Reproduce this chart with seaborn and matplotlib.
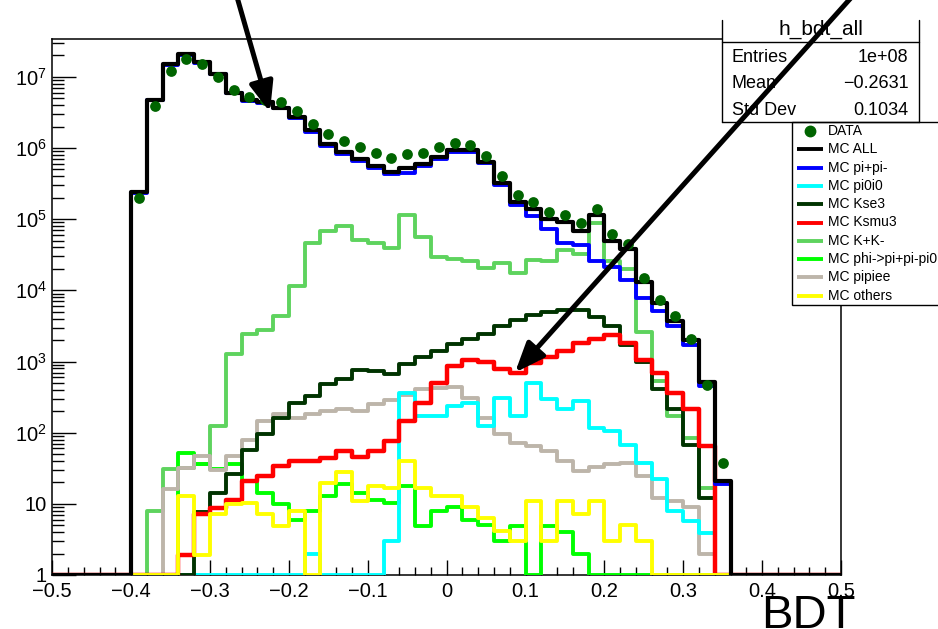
import numpy as np
import pandas as pd
import matplotlib
matplotlib.use("Agg")
import matplotlib.pyplot as plt
import seaborn as sns
from matplotlib.patches import Rectangle
from matplotlib.lines import Line2D
from matplotlib.ticker import MultipleLocator, LogLocator, NullFormatter, FuncFormatter

W, H = 938, 629

sns.set_theme(style="ticks")
plt.rcParams["font.family"] = ["Liberation Sans", "DejaVu Sans"]
plt.rcParams["mathtext.fontset"] = "custom"
plt.rcParams["mathtext.rm"] = "Liberation Sans"
plt.rcParams["mathtext.it"] = "Liberation Sans:italic"
plt.rcParams["axes.unicode_minus"] = True

# ---- binning of the BDT output ------------------------------------------
X_LO, X_HI, N_BINS = -0.5, 0.5, 50
Y_MIN, Y_MAX = 1.0, 3.37e7
edges = np.linspace(X_LO, X_HI, N_BINS + 1)
centers = 0.5 * (edges[:-1] + edges[1:])

# ---- bin contents (first filled bin index, then contents) ----------------
data_start = 5
data_counts = [2.0e5, 3.9e6, 1.2e7, 1.78e7, 1.5e7, 1.0e7, 6.5e6, 5.2e6, 4.7e6, 4.4e6,
               3.3e6, 2.16e6, 1.55e6, 1.24e6, 1.03e6, 8.5e5, 7.3e5, 8.3e5, 8.6e5, 1.03e6,
               1.19e6, 1.12e6, 7.8e5, 4.0e5, 2.18e5, 1.72e5, 1.28e5, 1.15e5, 8.8e4, 1.37e5,
               6.2e4, 4.5e4, 1.5e4, 7.4e3, 4.4e3, 2.07e3, 470, 37.8]

mc_all_start = 5
mc_all = [2.4e5, 4.8e6, 1.5e7, 2.09e7, 1.6e7, 1.1e7, 6.0e6, 4.7e6, 4.4e6, 3.7e6,
          2.7e6, 1.78e6, 1.15e6, 8.8e5, 7.1e5, 5.6e5, 4.6e5, 5.3e5, 6.0e5, 7.5e5,
          9.3e5, 9.3e5, 6.4e5, 3.2e5, 1.74e5, 1.37e5, 1.0e5, 9.1e4, 6.9e4, 1.16e5,
          5.0e4, 3.8e4, 1.3e4, 6.6e3, 3.7e3, 2.0e3, 522, 21]

pipi_start = 5
mc_pipi = [2.3e5, 4.7e6, 1.47e7, 2.05e7, 1.57e7, 1.08e7, 5.9e6, 4.6e6, 4.3e6, 3.6e6,
           2.6e6, 1.7e6, 1.08e6, 8.3e5, 6.6e5, 5.3e5, 4.3e5, 4.5e5, 5.6e5, 7.1e5,
           8.9e5, 8.7e5, 6.1e5, 3.05e5, 1.6e5, 1.12e5, 7.3e4, 4.66e4, 4.36e4, 2.56e4,
           2.1e4, 1.4e4, 7.9e3, 5.1e3, 3.2e3, 1.7e3, 457, 18.7]

pi0pi0_start = 16
mc_pi0pi0 = [2.0, 0, 0, 0, 0, 3.05, 366, 172, 172, 238,
             257, 124, 311, 172, 505, 295, 214, 279, 117, 106,
             67, 37, 22, 7.9, 5.7, 3.9]

kse3_start = 9
mc_kse3 = [7.7, 14.3, 26, 58, 95, 163, 263, 329, 479, 562,
           755, 724, 676, 918, 1140, 1410, 1760, 2070, 2430, 3180,
           3830, 4550, 4900, 5300, 5300, 4170, 3180, 1700, 1000, 409,
           214, 67, 12]

ksmu3_start = 8
mc_ksmu3 = [1.94, 7.1, 8.8, 11.2, 21, 24.6, 34, 40, 40.5, 44,
            55, 45, 55, 76, 146, 263, 505, 870, 1050, 990,
            782, 700, 950, 1140, 1410, 1800, 2070, 2360, 1800, 1050,
            700, 366, 214, 64]

kk_start = 6
mc_kk = [7.9, 30.5, 32, 36, 124, 1270, 2400, 2800, 4400, 11600,
         46000, 69000, 79000, 51000, 46600, 39000, 113000, 56000, 29000, 28000,
         26000, 20700, 24000, 17400, 27000, 26000, 37000, 32000, 88000, 26000,
         20000, 2570, 535, 172, 83, 16.8]

phi_start = 8
mc_phi = [52, 36, 31, 36, 21, 14.3, 9.8, 6, 7.9, 12.9,
          19, 14.3, 11.5, 10.3, 17.8, 4.9, 7.9, 9, 6, 5,
          3.05, 4.9, 0, 4.9, 4.0, 2.0]

pipiee_start = 7
mc_pipiee = [16, 32, 47, 29.5, 47, 78, 146, 182, 163, 182,
             202, 214, 202, 251, 286, 336, 409, 422, 440, 311,
             159, 95, 72, 65, 55, 40.5, 29, 33, 36.5, 38,
             25, 11.9, 10.9, 9, 2.0]

others_start = 8
mc_others = [12.9, 1.94, 7.1, 9.8, 10.3, 7.1, 4.9, 7.9, 0, 19.8,
             28, 10.9, 17.8, 16.8, 40, 16.8, 12.9, 12.9, 9, 6.4,
             4.1, 3.05, 10.9, 3.05, 10.9, 7.1, 10.9, 3.05, 5.0, 3.05]

legend_labels = ["DATA", "MC ALL", "MC pi+pi-", "MC pi0i0", "MC Kse3", "MC Ksmu3",
                 "MC K+K-", "MC phi->pi+pi-pi0", "MC pipiee", "MC others"]

stats_title = "h_bdt_all"
stats_names = ["Entries", "Mean", "Std Dev"]
stats_values = ["1e+08", "\u22120.2631", "0.1034"]


def full_bins(start, values):
    """Place the listed contents into the 50-bin array starting at bin `start`."""
    out = np.zeros(N_BINS)
    out[start:start + len(values)] = values
    return out


# name, contents, colour, line width, draw order
series = [
    ("MC K+K-", full_bins(kk_start, mc_kk), "#5ed35e", 2.8, 3),
    ("MC phi->pi+pi-pi0", full_bins(phi_start, mc_phi), "#00ff00", 2.8, 4),
    ("MC pipiee", full_bins(pipiee_start, mc_pipiee), "#bdb5aa", 2.8, 5),
    ("MC pi0i0", full_bins(pi0pi0_start, mc_pi0pi0), "#00ffff", 2.8, 6),
    ("MC Kse3", full_bins(kse3_start, mc_kse3), "#003300", 2.8, 7),
    ("MC Ksmu3", full_bins(ksmu3_start, mc_ksmu3), "#ff0000", 3.2, 8),
    ("MC others", full_bins(others_start, mc_others), "#ffff00", 2.8, 9),
    ("MC pi+pi-", full_bins(pipi_start, mc_pipi), "#0000ff", 2.8, 10),
    ("MC ALL", full_bins(mc_all_start, mc_all), "#000000", 3.0, 11),
]
colors = {name: c for name, _, c, _, _ in series}
widths = {name: lw for name, _, _, lw, _ in series}
data_color = "#006400"

fig = plt.figure(figsize=(W / 100, H / 100), dpi=100)
fig.patch.set_facecolor("white")
ax = fig.add_axes([52.3 / W, 1 - 575 / H, (841 - 52.3) / W, (575 - 39.3) / H])
ax.set_facecolor("white")

bin_list = edges.tolist()
for name, counts, color, lw, z in series:
    # empty bins rest on the frame floor, the way ROOT draws them on a log axis
    frame = pd.DataFrame({"bdt": centers, "entries": np.clip(counts, Y_MIN, None)})
    sns.histplot(data=frame, x="bdt", weights="entries", bins=bin_list, element="step",
                 fill=False, color=color, linewidth=lw, ax=ax, zorder=z)

data_full = full_bins(data_start, data_counts)
data_frame = pd.DataFrame({"bdt": centers, "entries": np.where(data_full > 0, data_full, np.nan)})
sns.scatterplot(data=data_frame, x="bdt", y="entries", color=data_color, s=60,
                linewidth=0, marker="o", ax=ax, zorder=12)

ax.set_yscale("log")
ax.set_xlim(X_LO, X_HI)
ax.set_ylim(Y_MIN, Y_MAX)
ax.set_xlabel("")
ax.set_ylabel("")

# ---- axes decoration in ROOT style ----------------------------------------
for sp in ax.spines.values():
    sp.set_color("black")
    sp.set_linewidth(1.1)
    sp.set_visible(True)


def x_fmt(v, _):
    if abs(v) < 1e-9:
        return "0"
    return f"{v:.1f}".replace("-", "\u2212")


def y_fmt(v, _):
    n = int(round(np.log10(v)))
    if n == 0:
        return "1"
    if n == 1:
        return "10"
    return r"$\mathregular{10^{%d}}$" % n


ax.xaxis.set_major_locator(MultipleLocator(0.1))
ax.xaxis.set_minor_locator(MultipleLocator(0.02))
ax.xaxis.set_major_formatter(FuncFormatter(x_fmt))
ax.yaxis.set_major_locator(LogLocator(base=10, numticks=20))
ax.yaxis.set_minor_locator(LogLocator(base=10, subs=np.arange(2, 10), numticks=20))
ax.yaxis.set_minor_formatter(NullFormatter())
ax.yaxis.set_major_formatter(FuncFormatter(y_fmt))

ax.tick_params(axis="x", which="major", direction="in", length=10.8, width=1.0,
               labelsize=14.5, pad=5, top=False, color="black", labelcolor="black")
ax.tick_params(axis="x", which="minor", direction="in", length=5.8, width=1.0,
               top=False, color="black")
ax.tick_params(axis="y", which="major", direction="in", length=17, width=1.0,
               labelsize=14.5, pad=4, right=False, color="black", labelcolor="black")
ax.tick_params(axis="y", which="minor", direction="in", length=8.5, width=1.0,
               right=False, color="black")

# ---- helpers for figure-pixel placement (origin at top-left) --------------
def fx(px):
    return px / W


def fy(py):
    return 1 - py / H


tf = fig.transFigure

# ---- statistics box -------------------------------------------------------
sb_l, sb_r, sb_t, sb_sep, sb_b = 722.3, 919.3, 20.0, 42.3, 121.7
ax.add_patch(Rectangle((fx(sb_l), fy(sb_b)), fx(sb_r) - fx(sb_l), fy(sb_t) - fy(sb_b),
                       transform=tf, facecolor="white", edgecolor="none",
                       clip_on=False, zorder=20))
for xs, ys in [((sb_l, sb_l), (sb_t, sb_b)), ((sb_r, sb_r), (sb_t, sb_b)),
               ((sb_l, sb_r), (sb_sep, sb_sep)), ((sb_l, sb_r), (sb_b, sb_b))]:
    ax.add_line(Line2D([fx(v) for v in xs], [fy(v) for v in ys], transform=tf,
                       color="black", lw=1.0, clip_on=False, zorder=21))
ax.text(fx((sb_l + sb_r) / 2), fy(35), stats_title, transform=tf, ha="center",
        va="baseline", fontsize=15, color="black", zorder=22)
for i, (nm, val) in enumerate(zip(stats_names, stats_values)):
    base = 61.7 + 26.7 * i
    ax.text(fx(731.7), fy(base), nm, transform=tf, ha="left", va="baseline",
            fontsize=13, color="black", zorder=22)
    ax.text(fx(908.3), fy(base), val, transform=tf, ha="right", va="baseline",
            fontsize=13, color="black", zorder=22)

# ---- legend -------------------------------------------------------------------
lg_l, lg_t, lg_b = 792.3, 121.7, 305.0
ax.add_patch(Rectangle((fx(lg_l), fy(lg_b)), fx(W + 10) - fx(lg_l), fy(lg_t) - fy(lg_b),
                       transform=tf, facecolor="white", edgecolor="black", lw=1.0,
                       clip_on=False, zorder=20))
row0, drow = 131.0, 18.3
for i, lab in enumerate(legend_labels):
    yc = row0 + drow * i
    if lab == "DATA":
        ax.add_line(Line2D([fx(810)], [fy(yc)], transform=tf, marker="o", markersize=7.5,
                           color=data_color, linestyle="none", clip_on=False, zorder=21))
    else:
        ax.add_line(Line2D([fx(796.7), fx(823.3)], [fy(yc), fy(yc)], transform=tf,
                           color=colors[lab], lw=min(widths[lab], 2.8),
                           solid_capstyle="butt", clip_on=False, zorder=21))
    ax.text(fx(828.3), fy(yc), lab, transform=tf, ha="left", va="center",
            fontsize=10, color="black", zorder=22)

# ---- pointer arrows -------------------------------------------------------
arrow_kw = dict(arrowstyle="-|>,head_length=1.5,head_width=0.6", color="black",
                lw=3.6, shrinkA=0, shrinkB=0)
ax.annotate("", xy=(-0.224, 3.2e6), xycoords="data", xytext=(235, H + 10),
            textcoords="figure pixels", arrowprops=arrow_kw,
            annotation_clip=False, zorder=30)
ax.annotate("", xy=(0.0867, 700), xycoords="data", xytext=(858, H + 10),
            textcoords="figure pixels", arrowprops=arrow_kw,
            annotation_clip=False, zorder=30)

# ---- axis title ------------------------------------------------------------
fig.text(fx(856), fy(627.5), "BDT", ha="right", va="baseline", fontsize=34, color="black")

fig.savefig("out.png", dpi=100, facecolor="white")
